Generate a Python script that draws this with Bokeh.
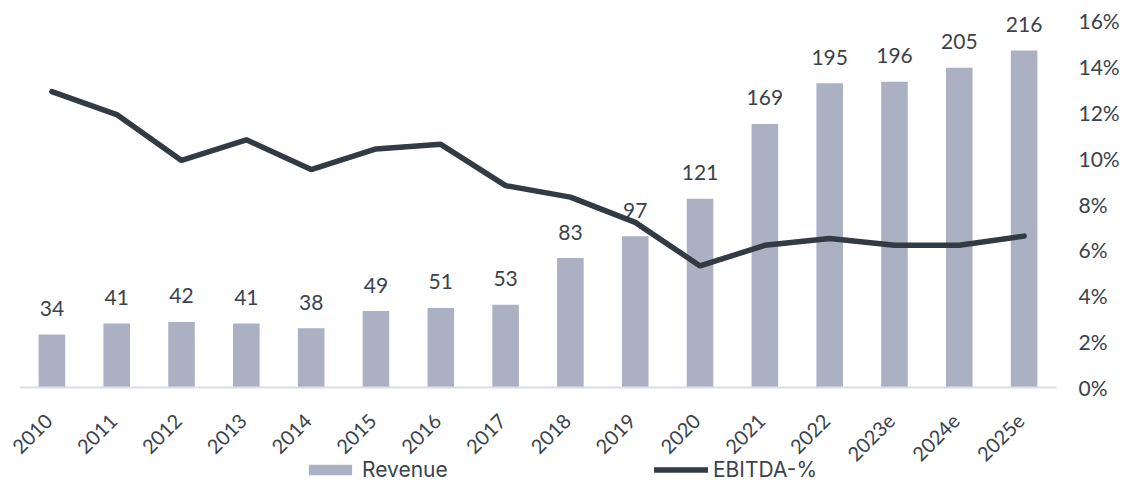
import math
from bokeh.plotting import figure
from bokeh.models import (ColumnDataSource, Range1d, LinearAxis, FixedTicker,
                          NumeralTickFormatter, Legend, LegendItem, FactorRange)
from bokeh.transform import dodge
from bokeh.core.properties import value
from bokeh.embed import file_html
from bokeh.resources import INLINE

years = ["2010", "2011", "2012", "2013", "2014", "2015", "2016", "2017",
         "2018", "2019", "2020", "2021", "2022", "2023e", "2024e", "2025e"]
revenue = [34, 41, 42, 41, 38, 49, 51, 53, 83, 97, 121, 169, 195, 196, 205, 216]
ebitda_pct = [12.9, 11.9, 9.9, 10.8, 9.5, 10.4, 10.6, 8.8, 8.3, 7.2, 5.3, 6.2,
              6.5, 6.2, 6.2, 6.6]
pct_ticks = [0, 2, 4, 6, 8, 10, 12, 14, 16]
series_names = ["Revenue", "EBITDA-%"]

BAR = "#abb1c3"
LINE = "#323a44"
TEXT = "#3a424c"
FONT = "Lato"

# layout (pixels)
W, H = 1122, 482
FRAME_W = 1076        # drawing area width (starts at the left edge)
CAT_PX = 64.875       # width of one category slot
SCALE_TOP = 20        # pixel row of the top of the value scales
ZERO_Y = 387          # pixel row of the zero baseline
REV_MAX = 235.3       # revenue value at SCALE_TOP
PCT_MAX = 0.16        # EBITDA share at SCALE_TOP

rev_per_px = REV_MAX / (ZERO_Y - SCALE_TOP)
pct_per_px = PCT_MAX / (ZERO_Y - SCALE_TOP)
pad = (FRAME_W - CAT_PX * len(years)) / 2 / CAT_PX   # padding per side, in slots

src = ColumnDataSource(dict(
    year=years,
    revenue=revenue,
    label=[str(v) for v in revenue],
    ebitda=[v / 100 for v in ebitda_pct],
    zero=[0] * len(years),
))

xr = FactorRange(*years, range_padding=pad, range_padding_units="absolute")
p = figure(width=W, height=H, x_range=xr,
           y_range=Range1d(-(H - ZERO_Y) * rev_per_px, ZERO_Y * rev_per_px),
           output_backend="svg", toolbar_location=None,
           x_axis_location=None, y_axis_location=None,
           min_border_left=0, min_border_right=W - FRAME_W, min_border_top=0,
           min_border_bottom=0)
p.extra_y_ranges = {"pct": Range1d(-(H - ZERO_Y) * pct_per_px, ZERO_Y * pct_per_px)}
p.outline_line_color = None
p.xgrid.visible = False
p.ygrid.visible = False

bars = p.vbar(x="year", top="revenue", width=0.41, source=src,
              fill_color=BAR, line_color=None)

# baseline from the outer edge of the first slot to the outer edge of the last
base = ColumnDataSource(dict(x0=[years[0]], x1=[years[-1]], y=[0]))
p.segment(x0=dodge("x0", -0.5, range=xr), x1=dodge("x1", 0.5, range=xr),
          y0="y", y1="y", source=base, line_color="#dadde4", line_width=2)

p.text(x="year", y="revenue", text="label", source=src, y_offset=-26,
       text_align="center", text_baseline="middle",
       text_font=value(FONT), text_font_size="21px", text_color=TEXT)
line = p.line(x="year", y="ebitda", source=src, y_range_name="pct",
              line_color=LINE, line_width=5.5, line_cap="round")

# category labels, rotated 45 degrees under the baseline
p.text(x="year", y="zero", text="year", source=src, angle=math.pi / 4,
       x_offset=-3, y_offset=30, text_align="right", text_baseline="middle",
       text_font=value(FONT), text_font_size="20px", text_color=TEXT)

pax = LinearAxis(y_range_name="pct", ticker=FixedTicker(ticks=[t / 100 for t in pct_ticks]),
                 formatter=NumeralTickFormatter(format="0%"))
pax.axis_line_color = None
pax.major_tick_line_color = None
pax.minor_tick_line_color = None
pax.major_tick_out = 0
pax.major_tick_in = 0
pax.major_label_standoff = 3
pax.major_label_text_font = FONT
pax.major_label_text_font_size = "21px"
pax.major_label_text_color = TEXT
p.add_layout(pax, "right")

legend = Legend(items=[LegendItem(label=series_names[0], renderers=[bars]),
                       LegendItem(label=series_names[1], renderers=[line])],
                orientation="horizontal", location=(303, 0),
                glyph_width=54, glyph_height=13, label_standoff=5,
                label_width=292, label_height=16, spacing=0, padding=0, margin=0,
                border_line_alpha=0, background_fill_alpha=0,
                label_text_font="Inter", label_text_font_size="21px",
                label_text_color=TEXT)
p.add_layout(legend)

open("out.html", "w").write(file_html(p, INLINE))
